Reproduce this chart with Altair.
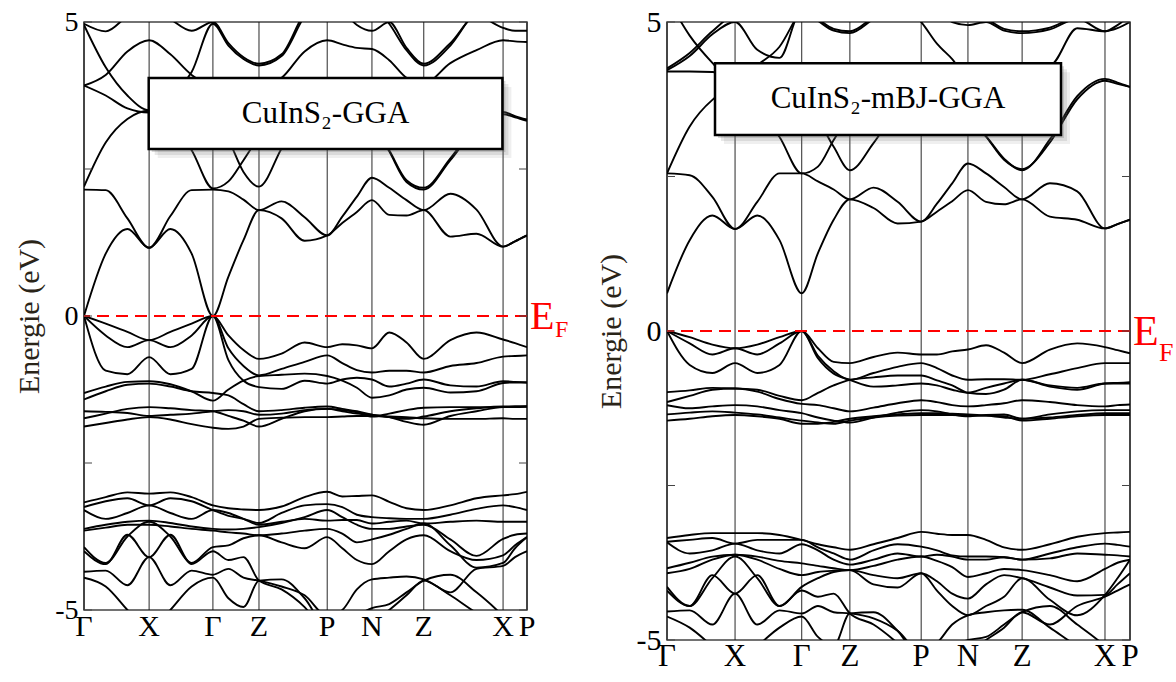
import altair as alt
import pandas as pd

SERIF = "Liberation Serif"

# ---- k-path (fractional distance along the path) ----
K = [0.000, 0.049, 0.098, 0.147, 0.195, 0.243, 0.291, 0.326, 0.360, 0.395, 0.446, 0.498,
     0.549, 0.583, 0.616, 0.650, 0.689, 0.728, 0.767, 0.827, 0.886, 0.946, 0.973, 1.000]
KPOINT_POS = [0.0, 0.147, 0.291, 0.395, 0.549, 0.650, 0.767, 0.946, 1.0]
KPOINT_LABELS = ["Γ", "X", "Γ", "Z", "P", "N", "Z", "X", "P"]
Y_TICKS = [-5, -2.5, 0, 2.5, 5]
Y_LABELS = [-5, 0, 5]

# ---- CuInS2 - GGA bands (eV) ----
G_C1 = [0.00, 1.06, 1.48, 1.16, 1.48, 1.06, 0.00, 0.67, 1.29, 1.80, 1.66, 1.28, 1.37, 1.58, 1.77, 1.97, 1.72, 1.71, 1.80, 1.35, 1.40, 1.18, 1.27, 1.37]
G_C2 = [2.15, 2.14, 1.66, 1.16, 1.70, 2.14, 2.15, 2.12, 1.98, 1.80, 1.95, 1.68, 1.37, 1.69, 2.03, 2.35, 2.18, 1.97, 1.80, 2.08, 1.81, 1.18, 1.27, 1.37]
G_C3 = [2.20, 2.95, 3.35, 3.49, 3.30, 2.82, 2.17, 2.29, 2.65, 3.05, 3.50, 3.80, 3.90, 3.90, 3.60, 3.30, 2.80, 2.28, 2.15, 2.65, 3.20, 3.43, 3.38, 3.32]
G_C4 = [3.92, 3.75, 3.53, 3.46, 3.50, 3.55, 3.40, 3.00, 2.45, 2.20, 2.85, 3.50, 3.95, 3.95, 3.70, 3.30, 2.82, 2.31, 2.18, 2.68, 3.25, 3.47, 3.40, 3.34]
G_C5 = [4.95, 4.23, 3.75, 3.50, 3.75, 4.15, 4.97, 4.60, 4.37, 4.26, 4.42, 5.10, 5.50, 5.50, 5.50, 5.30, 4.97, 4.52, 4.26, 4.60, 5.20, 5.40, 5.40, 5.40]
G_C6 = [3.92, 4.10, 4.50, 4.69, 4.45, 4.10, 3.90, 3.85, 3.85, 3.90, 4.05, 4.50, 4.69, 4.62, 4.56, 4.54, 4.35, 4.05, 3.95, 4.30, 4.52, 4.69, 4.67, 4.66]
G_C7 = [4.97, 4.84, 5.10, 5.30, 5.05, 4.85, 5.00, 4.64, 4.40, 4.29, 4.45, 5.15, 5.40, 5.20, 4.95, 4.85, 5.00, 4.56, 4.29, 4.64, 5.10, 4.90, 4.85, 4.85]
G_V1 = [0.00, -0.13, -0.27, -0.41, -0.27, -0.13, 0.00, -0.33, -0.58, -0.73, -0.64, -0.45, -0.53, -0.48, -0.50, -0.55, -0.28, -0.45, -0.73, -0.41, -0.28, -0.40, -0.46, -0.53]
G_V2 = [0.00, -0.33, -0.53, -0.41, -0.53, -0.33, 0.00, -0.55, -0.85, -1.01, -0.90, -0.78, -0.67, -0.80, -0.92, -0.96, -0.93, -0.93, -0.96, -0.85, -0.80, -0.69, -0.68, -0.67]
G_V3 = [0.00, -0.93, -0.99, -0.70, -0.99, -0.90, 0.00, -0.75, -1.10, -1.21, -1.24, -1.10, -1.15, -1.08, -1.05, -1.08, -1.20, -1.15, -1.08, -1.18, -1.20, -1.11, -1.12, -1.13]
G_V4 = [-1.31, -1.20, -1.12, -1.11, -1.16, -1.28, -1.44, -1.25, -1.10, -1.02, -1.00, -0.98, -1.02, -1.10, -1.22, -1.39, -1.35, -1.25, -1.22, -1.30, -1.28, -1.14, -1.13, -1.13]
G_V5 = [-1.42, -1.28, -1.17, -1.15, -1.20, -1.28, -1.31, -1.35, -1.50, -1.62, -1.60, -1.56, -1.54, -1.58, -1.62, -1.68, -1.72, -1.75, -1.71, -1.62, -1.57, -1.54, -1.54, -1.54]
G_V6 = [-1.74, -1.66, -1.58, -1.55, -1.57, -1.60, -1.62, -1.70, -1.78, -1.88, -1.75, -1.62, -1.58, -1.62, -1.66, -1.68, -1.72, -1.80, -1.85, -1.70, -1.62, -1.55, -1.55, -1.54]
G_V7 = [-1.88, -1.82, -1.76, -1.72, -1.76, -1.84, -1.90, -1.92, -1.88, -1.75, -1.73, -1.72, -1.72, -1.71, -1.70, -1.70, -1.71, -1.72, -1.74, -1.75, -1.75, -1.74, -1.75, -1.75]
G_V8 = [-1.62, -1.63, -1.65, -1.70, -1.68, -1.66, -1.62, -1.60, -1.62, -1.68, -1.66, -1.60, -1.58, -1.60, -1.64, -1.71, -1.66, -1.60, -1.56, -1.55, -1.55, -1.55, -1.54, -1.54]
G_W1 = [-3.17, -3.08, -3.00, -3.02, -3.00, -3.08, -3.22, -3.27, -3.29, -3.30, -3.24, -3.08, -2.99, -3.07, -3.06, -3.05, -3.16, -3.27, -3.30, -3.22, -3.10, -3.05, -3.03, -2.99]
G_W2 = [-3.25, -3.15, -3.10, -3.22, -3.10, -3.15, -3.30, -3.40, -3.45, -3.52, -3.35, -3.22, -3.20, -3.25, -3.38, -3.42, -3.44, -3.45, -3.45, -3.38, -3.28, -3.22, -3.25, -3.30]
G_W3 = [-3.30, -3.45, -3.35, -3.22, -3.35, -3.45, -3.30, -3.35, -3.45, -3.55, -3.50, -3.45, -3.48, -3.47, -3.47, -3.53, -3.50, -3.48, -3.53, -3.50, -3.48, -3.50, -3.50, -3.50]
G_W4 = [-3.62, -3.55, -3.50, -3.48, -3.52, -3.58, -3.62, -3.63, -3.62, -3.59, -3.52, -3.42, -3.30, -3.42, -3.55, -3.62, -3.62, -3.58, -3.55, -3.80, -4.08, -3.79, -3.72, -3.70]
G_W5 = [-3.65, -3.60, -3.55, -3.55, -3.58, -3.62, -3.65, -3.68, -3.70, -3.73, -3.70, -3.65, -3.62, -3.70, -3.85, -3.80, -3.72, -3.62, -3.53, -3.90, -4.28, -4.20, -3.95, -3.76]
G_W6 = [-3.93, -4.20, -3.75, -3.50, -3.75, -4.20, -3.93, -3.90, -3.78, -3.73, -3.85, -3.95, -3.76, -3.95, -4.15, -4.22, -4.00, -3.80, -3.73, -4.00, -4.15, -4.07, -3.90, -3.76]
G_W7 = [-4.45, -4.60, -5.00, -5.40, -5.00, -4.60, -4.45, -4.80, -4.95, -4.50, -4.48, -4.80, -5.30, -5.30, -5.10, -4.97, -4.90, -4.70, -4.50, -4.40, -4.70, -5.10, -5.30, -5.40]
G_W8 = [-4.00, -4.22, -3.72, -4.10, -3.72, -4.22, -4.00, -4.15, -4.10, -4.50, -4.65, -4.95, -5.40, -5.40, -5.40, -5.20, -5.00, -4.75, -4.50, -4.70, -4.30, -4.25, -4.10, -4.00]
G_W9 = [-4.35, -4.33, -4.58, -4.10, -4.58, -4.33, -4.40, -4.30, -4.45, -4.50, -4.60, -4.75, -5.10, -5.00, -4.65, -4.48, -4.45, -4.43, -4.48, -4.75, -5.05, -5.30, -5.40, -5.40]

# ---- CuInS2 - mBJ-GGA bands (eV) ----
M_C1 = [0.61, 1.47, 1.87, 1.65, 1.87, 1.47, 0.61, 1.26, 1.80, 2.13, 1.99, 1.74, 1.77, 1.93, 2.10, 2.28, 2.09, 2.05, 2.13, 1.85, 1.80, 1.66, 1.73, 1.80]
M_C2 = [2.55, 2.52, 2.17, 1.65, 2.09, 2.55, 2.55, 2.42, 2.29, 2.13, 2.32, 2.09, 1.77, 2.06, 2.39, 2.71, 2.55, 2.33, 2.13, 2.39, 2.26, 1.66, 1.73, 1.80]
M_C3 = [2.55, 3.31, 3.74, 3.95, 3.60, 3.14, 2.55, 2.66, 3.09, 3.50, 3.90, 4.10, 4.20, 4.10, 3.80, 3.40, 3.15, 2.79, 2.60, 3.10, 3.80, 4.08, 4.02, 3.95]
M_C4 = [4.20, 4.20, 4.19, 4.10, 3.90, 3.70, 3.55, 3.40, 2.98, 2.60, 3.04, 3.60, 3.90, 3.95, 3.80, 3.50, 3.15, 2.77, 2.62, 3.05, 3.75, 4.05, 4.00, 3.95]
M_C5 = [5.40, 4.78, 4.34, 4.00, 4.30, 4.60, 5.20, 5.40, 5.40, 5.30, 5.20, 5.30, 5.00, 4.65, 4.40, 4.10, 4.10, 4.20, 4.30, 4.30, 4.90, 4.85, 4.95, 5.10]
M_C6 = [4.22, 4.45, 4.80, 5.00, 4.55, 4.42, 5.20, 5.02, 4.86, 4.82, 5.05, 5.30, 5.30, 5.20, 5.00, 4.95, 5.00, 4.86, 4.82, 4.88, 5.05, 4.85, 4.90, 5.00]
M_C7 = [4.25, 4.50, 4.85, 5.10, 5.10, 5.20, 5.25, 5.05, 4.89, 4.85, 5.08, 5.30, 5.30, 5.30, 5.20, 5.10, 5.05, 4.89, 4.85, 4.91, 5.08, 5.10, 5.20, 5.30]
M_V1 = [0.00, -0.10, -0.22, -0.28, -0.22, -0.10, 0.00, -0.28, -0.50, -0.52, -0.42, -0.35, -0.38, -0.38, -0.33, -0.30, -0.23, -0.35, -0.52, -0.30, -0.20, -0.26, -0.31, -0.36]
M_V2 = [0.00, -0.20, -0.38, -0.28, -0.38, -0.20, 0.00, -0.40, -0.65, -0.79, -0.68, -0.58, -0.52, -0.60, -0.72, -0.79, -0.78, -0.78, -0.79, -0.70, -0.60, -0.52, -0.52, -0.52]
M_V3 = [0.00, -0.55, -0.68, -0.52, -0.68, -0.55, 0.00, -0.44, -0.69, -0.79, -0.90, -0.88, -0.85, -0.88, -0.95, -1.00, -0.92, -0.85, -0.79, -0.90, -0.95, -0.85, -0.84, -0.83]
M_V4 = [-0.99, -0.96, -0.92, -0.93, -0.95, -1.05, -1.12, -1.00, -0.88, -0.79, -0.75, -0.72, -0.72, -0.80, -0.88, -1.00, -1.02, -0.95, -0.79, -0.88, -0.92, -0.85, -0.85, -0.85]
M_V5 = [-1.15, -1.05, -0.95, -0.93, -0.98, -1.10, -1.18, -1.20, -1.25, -1.30, -1.24, -1.17, -1.12, -1.15, -1.20, -1.22, -1.20, -1.17, -1.12, -1.15, -1.20, -1.22, -1.20, -1.19]
M_V6 = [-1.20, -1.25, -1.22, -1.20, -1.22, -1.28, -1.33, -1.40, -1.45, -1.48, -1.40, -1.32, -1.28, -1.30, -1.35, -1.38, -1.36, -1.35, -1.42, -1.35, -1.30, -1.28, -1.28, -1.28]
M_V7 = [-1.35, -1.32, -1.30, -1.32, -1.35, -1.40, -1.45, -1.48, -1.50, -1.45, -1.40, -1.37, -1.36, -1.36, -1.36, -1.37, -1.37, -1.38, -1.45, -1.42, -1.38, -1.36, -1.36, -1.36]
M_V8 = [-1.45, -1.42, -1.38, -1.36, -1.38, -1.42, -1.50, -1.50, -1.47, -1.42, -1.38, -1.35, -1.33, -1.33, -1.34, -1.35, -1.37, -1.40, -1.42, -1.40, -1.36, -1.33, -1.33, -1.33]
M_W1 = [-3.35, -3.30, -3.27, -3.27, -3.27, -3.30, -3.38, -3.45, -3.50, -3.54, -3.45, -3.35, -3.25, -3.28, -3.30, -3.30, -3.38, -3.50, -3.54, -3.45, -3.33, -3.27, -3.26, -3.25]
M_W2 = [-3.41, -3.38, -3.35, -3.44, -3.38, -3.38, -3.38, -3.50, -3.60, -3.70, -3.55, -3.45, -3.49, -3.55, -3.63, -3.65, -3.65, -3.66, -3.70, -3.60, -3.50, -3.44, -3.46, -3.49]
M_W3 = [-3.42, -3.60, -3.55, -3.44, -3.55, -3.60, -3.45, -3.55, -3.70, -3.78, -3.70, -3.60, -3.65, -3.62, -3.65, -3.70, -3.70, -3.66, -3.70, -3.68, -3.60, -3.62, -3.63, -3.65]
M_W4 = [-3.84, -3.75, -3.65, -3.62, -3.65, -3.72, -3.76, -3.80, -3.84, -3.87, -3.80, -3.70, -3.65, -3.72, -3.82, -3.98, -3.92, -3.85, -3.87, -3.95, -4.05, -3.85, -3.75, -3.70]
M_W5 = [-3.92, -3.85, -3.70, -3.62, -3.70, -3.85, -3.95, -3.90, -3.88, -3.87, -3.95, -4.00, -3.92, -4.05, -4.25, -4.33, -4.10, -3.95, -4.00, -4.15, -4.28, -4.27, -4.10, -3.92]
M_W6 = [-4.14, -4.45, -4.00, -3.65, -4.00, -4.45, -4.14, -4.00, -3.90, -3.87, -4.10, -4.15, -3.92, -4.20, -4.45, -4.60, -4.45, -4.30, -4.00, -4.35, -4.60, -4.27, -4.00, -3.70]
M_W7 = [-4.62, -4.80, -5.10, -5.40, -5.10, -4.80, -4.62, -4.95, -5.10, -4.57, -4.55, -4.85, -5.30, -5.30, -5.10, -5.00, -4.95, -4.75, -4.55, -4.45, -4.75, -5.10, -5.30, -5.40]
M_W8 = [-4.20, -4.45, -3.95, -4.25, -3.95, -4.45, -4.20, -4.30, -4.25, -4.57, -4.75, -5.05, -5.40, -5.40, -5.40, -5.20, -5.00, -4.80, -4.55, -4.75, -4.45, -4.30, -4.20, -4.10]
M_W9 = [-4.54, -4.52, -4.75, -4.25, -4.75, -4.52, -4.57, -4.45, -4.55, -4.57, -4.65, -4.85, -5.20, -5.05, -4.75, -4.60, -4.55, -4.52, -4.51, -4.80, -5.10, -5.35, -5.40, -5.40]

GGA_BANDS = {"C1": G_C1, "C2": G_C2, "C3": G_C3, "C4": G_C4, "C5": G_C5, "C6": G_C6, "C7": G_C7,
             "V1": G_V1, "V2": G_V2, "V3": G_V3, "V4": G_V4, "V5": G_V5, "V6": G_V6, "V7": G_V7, "V8": G_V8,
             "W1": G_W1, "W2": G_W2, "W3": G_W3, "W4": G_W4, "W5": G_W5, "W6": G_W6, "W7": G_W7, "W8": G_W8, "W9": G_W9}
MBJ_BANDS = {"C1": M_C1, "C2": M_C2, "C3": M_C3, "C4": M_C4, "C5": M_C5, "C6": M_C6, "C7": M_C7,
             "V1": M_V1, "V2": M_V2, "V3": M_V3, "V4": M_V4, "V5": M_V5, "V6": M_V6, "V7": M_V7, "V8": M_V8,
             "W1": M_W1, "W2": M_W2, "W3": M_W3, "W4": M_W4, "W5": M_W5, "W6": M_W6, "W7": M_W7, "W8": M_W8, "W9": M_W9}


def one_row():
    return pd.DataFrame({"o": [0]})


def panel(bands, W, H, title, box, ef):
    rows = [{"band": b, "k": k, "E": e} for b, vals in bands.items() for k, e in zip(K, vals)]
    df = pd.DataFrame(rows)
    xs = alt.Scale(domain=[0, 1], nice=False, zero=False)
    ys = alt.Scale(domain=[-5, 5], nice=False, zero=False)

    yaxis = alt.Axis(values=Y_LABELS, title="Energie (eV)", titleFont=SERIF, titleFontSize=30,
                     titleFontWeight="normal", titleColor="#2a2418", labelFont=SERIF, labelFontSize=ef["lfs"],
                     labelColor="black", ticks=False, tickSize=0, domain=False, grid=False,
                     labelPadding=6, titlePadding=10,
                     labelExpr="replace(format(datum.value, 'd'), '\u2212', '-')")

    vlines = alt.Chart(pd.DataFrame({"k": KPOINT_POS})).mark_rule(color="#111", strokeWidth=0.9).encode(
        x=alt.X("k:Q", scale=xs, axis=None))
    lines = alt.Chart(df).mark_line(clip=True, interpolate="monotone", color="black", strokeWidth=1.9).encode(
        x=alt.X("k:Q", scale=xs, axis=None),
        y=alt.Y("E:Q", scale=ys, axis=yaxis),
        detail="band:N")
    ef_line = alt.Chart(pd.DataFrame({"E": [0]})).mark_rule(color="#ff0000", strokeDash=[12, 7], strokeWidth=2).encode(
        y=alt.Y("E:Q", scale=ys))
    tdf = pd.DataFrame({"E": Y_TICKS})
    tick_l = alt.Chart(tdf).mark_rule(color="#444", strokeWidth=1).encode(
        y=alt.Y("E:Q", scale=ys), x=alt.value(0), x2=alt.value(8))
    tick_r = alt.Chart(tdf).mark_rule(color="#444", strokeWidth=1).encode(
        y=alt.Y("E:Q", scale=ys), x=alt.value(W - 8), x2=alt.value(W))

    x0, x1, y0, y1 = box
    shadows = []
    for off, op in [(9, 0.10), (6, 0.15), (3, 0.25)]:
        shadows.append(alt.Chart(one_row()).mark_rect(fill="#666", opacity=op).encode(
            x=alt.value(x0 + off), x2=alt.value(x1 + off), y=alt.value(y0 + off), y2=alt.value(y1 + off)))
    rect = alt.Chart(one_row()).mark_rect(fill="white", stroke="black", strokeWidth=2.5).encode(
        x=alt.value(x0), x2=alt.value(x1), y=alt.value(y0), y2=alt.value(y1))
    ttl = alt.Chart(one_row()).mark_text(text=title, font=SERIF, fontSize=31, color="black",
                                         align="center", baseline="middle").encode(
        x=alt.value((x0 + x1) / 2), y=alt.value((y0 + y1) / 2))

    klab = alt.Chart(pd.DataFrame({"k": KPOINT_POS, "lab": KPOINT_LABELS})).mark_text(
        font=SERIF, fontSize=ef["kfs"], baseline="top", color="black").encode(
        x=alt.X("k:Q", scale=xs), y=alt.value(H + 2), text="lab:N")

    e_txt = alt.Chart(pd.DataFrame({"E": [0]})).mark_text(
        text="E", font=SERIF, fontSize=ef["e"], color="#ff0000", align="left", baseline="alphabetic",
        dy=ef["edy"]).encode(x=alt.value(W + 3), y=alt.Y("E:Q", scale=ys))
    f_txt = alt.Chart(pd.DataFrame({"E": [0]})).mark_text(
        text="F", font=SERIF, fontSize=ef["f"], color="#ff0000", align="left", baseline="alphabetic",
        dy=ef["fdy"]).encode(x=alt.value(W + 3 + ef["fdx"]), y=alt.Y("E:Q", scale=ys))

    layers = [vlines, lines, ef_line, tick_l, tick_r] + shadows + [rect, ttl, klab, e_txt, f_txt]
    return alt.layer(*layers).properties(width=W, height=H)


left = panel(GGA_BANDS, 443, 588, "CuInS₂-GGA", (64.7, 418.4, 56, 127),
             {"lfs": 28, "kfs": 30, "e": 40, "edy": 13, "f": 24, "fdy": 21, "fdx": 25})
right = panel(MBJ_BANDS, 463, 618, "CuInS₂-mBJ-GGA", (48, 394, 41.3, 113),
              {"lfs": 30, "kfs": 31, "e": 42, "edy": 14, "f": 26, "fdy": 30, "fdx": 26})

chart = alt.hconcat(left, right, spacing=140, bounds="flush").properties(
    padding={"left": 13, "top": 6, "right": 0, "bottom": 0}
).configure_view(stroke="#444", strokeWidth=1.5)

chart.save("out.html", embed_options={"renderer": "svg", "actions": False})
